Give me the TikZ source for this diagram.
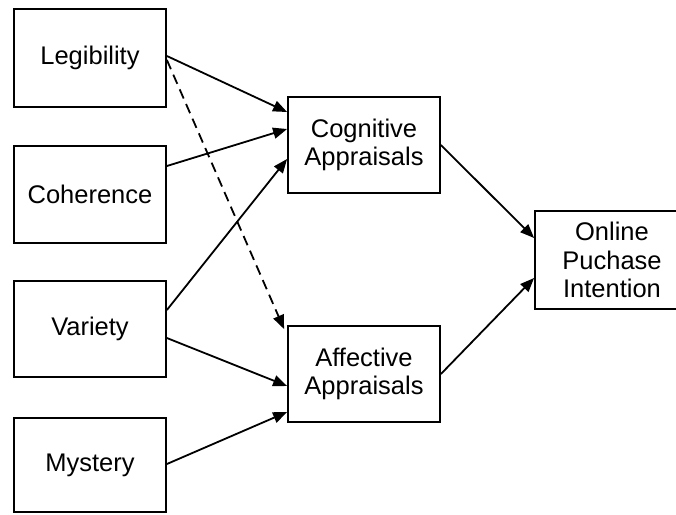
\documentclass[tikz,border=0pt]{standalone}
\usepackage{fontspec}
\setmainfont{Liberation Sans}
\usetikzlibrary{arrows.meta}
\begin{document}
\begin{tikzpicture}[x=1pt,y=-1pt,
  box/.style={draw,line width=1.8pt,minimum width=152pt,minimum height=96pt,
    inner sep=0pt,align=center,font=\fontsize{25.5}{28.5}\selectfont},
  link/.style={line width=1.8pt,-{Triangle[length=14pt,width=11pt]}},
  hint/.style={link,dashed,dash pattern=on 10pt off 6pt}]
\useasboundingbox (0,0) rectangle (676,514);
\clip (0,0) rectangle (676,514);
% inputs
\node[box,minimum height=98pt] (leg) at (90,58) {Legibility};
\node[box,minimum height=97pt] (coh) at (90,194.5) {Coherence};
\node[box] (var) at (90,329) {Variety};
\node[box,minimum height=94pt] (mys) at (90,465) {Mystery};
% appraisals
\node[box] (cog) at (364,145) {Cognitive\\Appraisals};
\node[box] (aff) at (364,374) {Affective\\Appraisals};
% outcome
\node[box,minimum width=154pt,minimum height=98pt] (onl) at (612,260) {Online\\Puchase\\Intention};
% paths
\draw[link] ([yshift=2pt]leg.east) -- ([yshift=33pt]cog.west);
\draw[hint] ([yshift=-2pt]leg.east) -- ([xshift=-3pt,yshift=-4pt]aff.north west);
\draw[link] ([yshift=28.5pt]coh.east) -- ([yshift=16pt]cog.west);
\draw[link] ([yshift=19pt]var.east) -- ([yshift=-14pt]cog.west);
\draw[link] ([yshift=-9pt]var.east) -- ([yshift=-12pt]aff.west);
\draw[link] ([yshift=1pt]mys.east) -- ([yshift=-38pt]aff.west);
\draw[link] (cog.east) -- ([yshift=22pt]onl.west);
\draw[link] (aff.east) -- ([yshift=-18pt]onl.west);
\end{tikzpicture}
\end{document}
